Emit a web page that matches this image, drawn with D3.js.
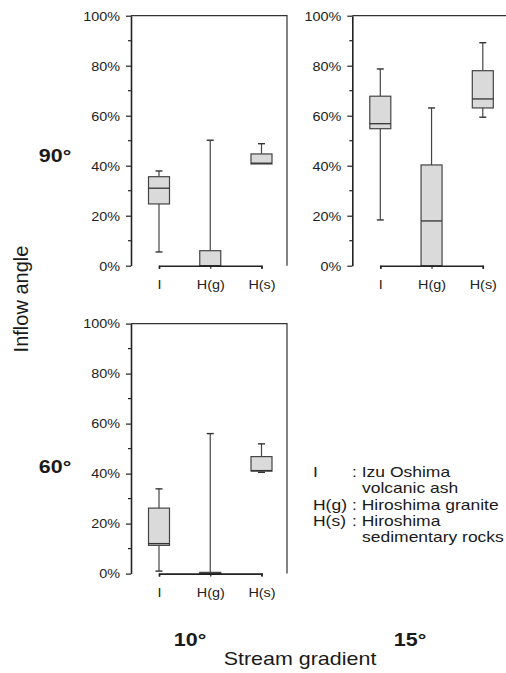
<!DOCTYPE html>
<html>
<head>
<meta charset="utf-8">
<script src="https://cdn.jsdelivr.net/npm/d3@7"></script>
<style>
body { margin: 0; background: #fff; }
text { font-family: "Liberation Sans", Arial, sans-serif; }
</style>
</head>
<body>
<svg id="chart" width="506" height="673"></svg>
<script>
var categories = ["I", "H(g)", "H(s)"];
var yTicks = [0, 20, 40, 60, 80, 100];
var yMinor = [10, 30, 50, 70, 90];
// [min, q1, median, q3, max] for each category
var box90_10 = [[5.5, 24.7, 31, 35.6, 37.9], [0, 0, 0, 6, 50.2], [40.7, 40.7, 41, 44.7, 48.8]];
var box90_15 = [[18.3, 54.8, 56.8, 67.8, 78.7], [0, 0, 17.9, 40.3, 63.1], [59.4, 63.1, 66.7, 78, 89.2]];
var box60_10 = [[1, 11.3, 12, 26.2, 33.9], [0, 0, 0, 0.5, 56], [40.5, 41, 41.2, 46.8, 51.9]];
var legendKeys = ["I", "", "H(g)", "H(s)", ""];
var legendTexts = [": Izu Oshima", "volcanic ash", ": Hiroshima granite", ": Hiroshima", "sedimentary rocks"];

var svg = d3.select("#chart");
var pw = 156, ph = 250;

var panels = [
    {x: 131, y: 15.7, data: box90_10},
    {x: 352.3, y: 15.7, data: box90_15},
    {x: 131, y: 323.6, data: box60_10}
];

// text stretched a bit wider, like the reference
function label(g, x, y, txt, size, sx, anchor, weight) {
    return g.append("text")
        .attr("transform", "translate(" + x + "," + y + ") scale(" + sx + ",1)")
        .attr("text-anchor", anchor || "middle")
        .attr("font-size", size)
        .attr("font-weight", weight || "normal")
        .attr("fill", "#1a1a1a")
        .text(txt);
}

panels.forEach(function(p) {
    var g = svg.append("g").attr("transform", "translate(" + p.x + "," + p.y + ")");
    var x = d3.scalePoint().domain(categories).range([28, 130.5]);
    var y = d3.scaleLinear().domain([0, 100]).range([ph, 0]);

    // top + right frame
    g.append("path")
        .attr("d", "M0,0H" + pw + "V" + ph)
        .attr("fill", "none")
        .attr("stroke", "#333")
        .attr("stroke-width", 1.2);

    var rows = p.data.map(function(d, i) {
        return {cat: categories[i], min: d[0], q1: d[1], med: d[2], q3: d[3], max: d[4]};
    });

    var b = g.selectAll(".box").data(rows).join("g").attr("class", "box");

    // whiskers
    b.filter(function(d) { return d.max > d.q3; }).append("line")
        .attr("x1", function(d) { return x(d.cat); })
        .attr("x2", function(d) { return x(d.cat); })
        .attr("y1", function(d) { return y(d.q3); })
        .attr("y2", function(d) { return y(d.max); })
        .attr("stroke", "#444").attr("stroke-width", 1.2);
    b.filter(function(d) { return d.max > d.q3; }).append("line")
        .attr("x1", function(d) { return x(d.cat) - 3.5; })
        .attr("x2", function(d) { return x(d.cat) + 3.5; })
        .attr("y1", function(d) { return y(d.max); })
        .attr("y2", function(d) { return y(d.max); })
        .attr("stroke", "#333").attr("stroke-width", 1.4);
    b.filter(function(d) { return d.min < d.q1; }).append("line")
        .attr("x1", function(d) { return x(d.cat); })
        .attr("x2", function(d) { return x(d.cat); })
        .attr("y1", function(d) { return y(d.q1); })
        .attr("y2", function(d) { return y(d.min); })
        .attr("stroke", "#444").attr("stroke-width", 1.2);
    b.filter(function(d) { return d.min < d.q1; }).append("line")
        .attr("x1", function(d) { return x(d.cat) - 3.5; })
        .attr("x2", function(d) { return x(d.cat) + 3.5; })
        .attr("y1", function(d) { return y(d.min); })
        .attr("y2", function(d) { return y(d.min); })
        .attr("stroke", "#333").attr("stroke-width", 1.4);

    b.append("rect")
        .attr("x", function(d) { return x(d.cat) - 10.5; })
        .attr("width", 21)
        .attr("y", function(d) { return y(d.q3); })
        .attr("height", function(d) { return y(d.q1) - y(d.q3); })
        .attr("fill", "#dadada")
        .attr("stroke", "#444")
        .attr("stroke-width", 1.2);
    b.append("line")
        .attr("x1", function(d) { return x(d.cat) - 10.5; })
        .attr("x2", function(d) { return x(d.cat) + 10.5; })
        .attr("y1", function(d) { return y(d.med); })
        .attr("y2", function(d) { return y(d.med); })
        .attr("stroke", "#333").attr("stroke-width", 1.3);

    // axes
    var ya = g.append("g")
        .call(d3.axisLeft(y).tickValues(yTicks).tickSize(5).tickSizeOuter(0)
            .tickFormat(function(d) { return d + "%"; }));
    var xa = g.append("g").attr("transform", "translate(0," + ph + ")")
        .call(d3.axisBottom(x).tickSize(3).tickSizeOuter(3));

    [ya, xa].forEach(function(a) {
        a.select(".domain").attr("stroke", "#222").attr("stroke-width", 1.6);
        a.selectAll(".tick line").attr("stroke", "#222").attr("stroke-width", 1.2);
        a.attr("font-family", null).attr("font-size", null);
    });
    ya.selectAll(".tick text")
        .attr("x", null).attr("dy", null)
        .attr("transform", "translate(-11,4.3) scale(1.2,1)")
        .attr("font-size", 12).attr("fill", "#222");
    xa.selectAll(".tick text")
        .attr("y", null).attr("dy", null)
        .attr("transform", "translate(0,23) scale(1.2,1)")
        .attr("font-size", 12).attr("fill", "#222");

    g.selectAll(".minor").data(yMinor).join("line")
        .attr("class", "minor")
        .attr("x1", -3).attr("x2", 0)
        .attr("y1", function(d) { return y(d); })
        .attr("y2", function(d) { return y(d); })
        .attr("stroke", "#222").attr("stroke-width", 1.2);
});

// row / column labels
label(svg, 55, 162, "90°", 19, 1.13, "middle", "bold");
label(svg, 55, 473, "60°", 19, 1.13, "middle", "bold");
label(svg, 190, 646, "10°", 19, 1.13, "middle", "bold");
label(svg, 410, 646, "15°", 19, 1.13, "middle", "bold");
label(svg, 300, 665, "Stream gradient", 19, 1.13, "middle");

svg.append("text")
    .attr("transform", "translate(28,299) rotate(-90)")
    .attr("text-anchor", "middle")
    .attr("font-size", 20)
    .attr("fill", "#1a1a1a")
    .text("Inflow angle");

// legend
var lineY = [477, 493, 510, 526, 542];
legendTexts.forEach(function(t, i) {
    if (legendKeys[i]) label(svg, 313, lineY[i], legendKeys[i], 14, 1.25, "start");
    label(svg, t.charAt(0) === ":" ? 352 : 362, lineY[i], t, 14, 1.25, "start");
});
</script>
</body>
</html>
